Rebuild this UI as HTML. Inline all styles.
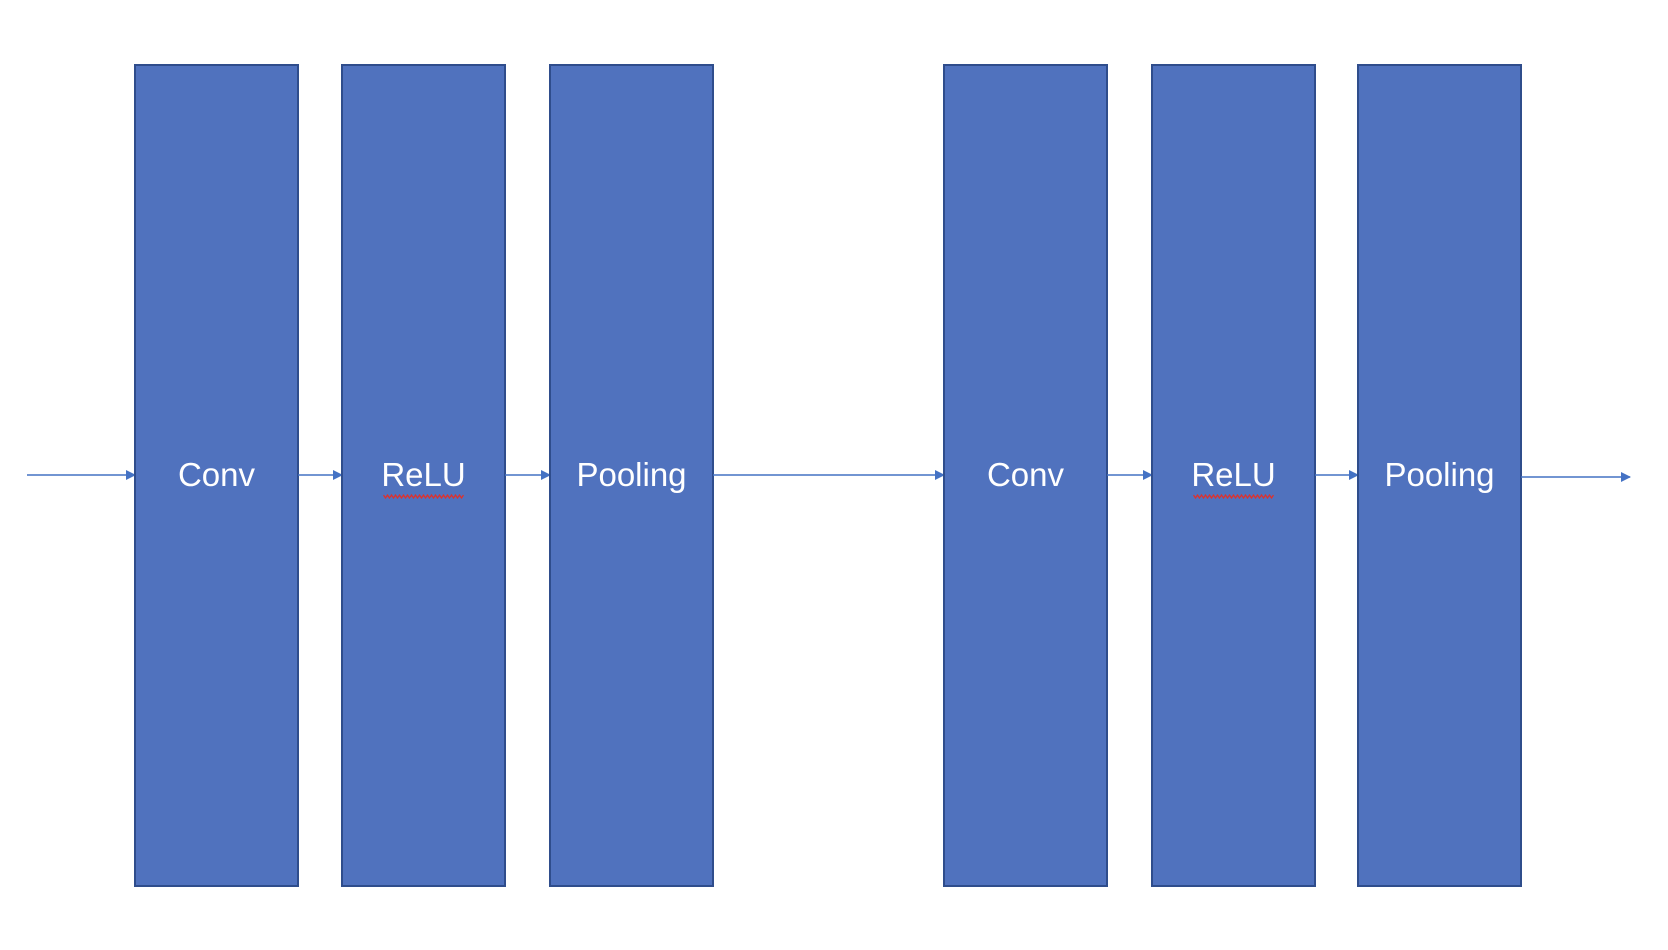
<!DOCTYPE html>
<html><head><meta charset="utf-8"><style>
html,body{margin:0;padding:0;background:#fff;width:1668px;height:950px;overflow:hidden}
svg{display:block}
text{font-family:"Liberation Sans",sans-serif;font-size:33px;fill:#fff}
</style></head><body>
<svg width="1668" height="950">
<defs><marker id="ah" markerWidth="10" markerHeight="10" refX="9" refY="5" orient="auto" markerUnits="userSpaceOnUse"><path d="M0,0 L10,5 L0,10 z" fill="#4472c4"/></marker></defs>
<g id="g"></g>
</svg>
<script>
const labels=["Conv","ReLU","Pooling","Conv","ReLU","Pooling"];
const lefts=[135,342,550,944,1152,1358];
const g=document.getElementById('g');
const NS="http://www.w3.org/2000/svg";
const W=163,T=65,B=886,Y=475;
function line(x1,x2,y,name){const l=document.createElementNS(NS,'line');l.setAttribute('x1',x1);l.setAttribute('x2',x2);l.setAttribute('y1',y);l.setAttribute('y2',y);l.setAttribute('stroke','#4472c4');l.setAttribute('stroke-width','1.5');l.setAttribute('marker-end','url(#ah)');


g.appendChild(l);}
line(27,lefts[0],Y,'input-arrow');
for(let i=0;i<labels.length;i++){
 const r=document.createElementNS(NS,'rect');
 r.setAttribute('x',lefts[i]);r.setAttribute('y',T);r.setAttribute('width',W);r.setAttribute('height',B-T);
 r.setAttribute('fill','#5072be');r.setAttribute('stroke','#2f4d8c');r.setAttribute('stroke-width','2');
 
 
 g.appendChild(r);
 const t=document.createElementNS(NS,'text');
 t.setAttribute('x',lefts[i]+W/2);t.setAttribute('y',Y+11);t.setAttribute('text-anchor','middle');
 t.textContent=labels[i];
 
 
 g.appendChild(t);
 if(labels[i]==="ReLU"){const p=document.createElementNS(NS,'path');let d='M'+(lefts[i]+W/2-40)+','+(Y+20);for(let k=0;k<40;k++){d+=' l2,'+(k%2?-3:3);}p.setAttribute('d',d);p.setAttribute('stroke','#e0302a');p.setAttribute('fill','none');p.setAttribute('stroke-width','1.2');
 
 
 g.appendChild(p);}
 if(i<labels.length-1) line(lefts[i]+W,lefts[i+1],Y,'connector-arrow');
}
line(lefts[5]+W,1630,Y+2,'output-arrow');
</script>
</body></html>
